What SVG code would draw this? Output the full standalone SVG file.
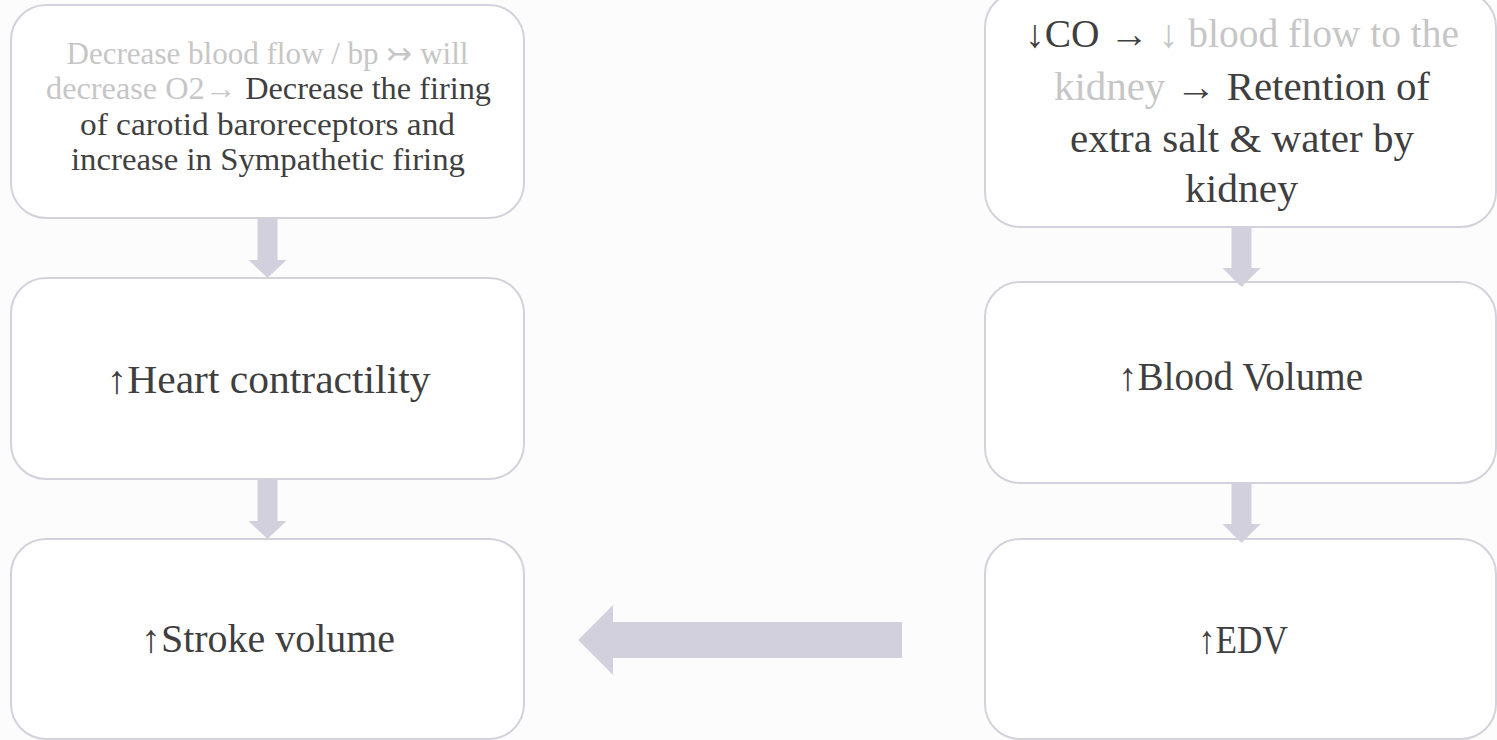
<svg xmlns="http://www.w3.org/2000/svg" width="1497" height="740" viewBox="0 0 1497 740" font-family="'Liberation Serif', serif">
<style>
.node{fill:#ffffff;stroke:#d3d2dc;stroke-width:2}
.arrow{fill:#d1d0dc;stroke:none}
.big,.small{font-family:'Liberation Serif',serif;text-anchor:middle;fill:#3f3f3f}
.big{font-size:39px}
.small{font-size:31px}
.lt{fill:#c6c6c6}
.dk{fill:#3f3f3f}
</style>
<rect x="0" y="0" width="1497" height="740" fill="#fcfcfc"/>
<g id="node-sympathetic">
<rect class="node" x="11" y="5" width="513" height="213" rx="35"/>
<text class="small lt" x="267.5" y="64" textLength="402" lengthAdjust="spacingAndGlyphs">Decrease blood flow / bp ↣ will</text>
<text class="small" x="268.5" y="99" textLength="445" lengthAdjust="spacingAndGlyphs"><tspan class="lt">decrease O2→</tspan><tspan class="dk"> Decrease the firing</tspan></text>
<text class="small" x="267.5" y="135" textLength="375" lengthAdjust="spacingAndGlyphs">of carotid baroreceptors and</text>
<text class="small" x="268" y="170" textLength="394" lengthAdjust="spacingAndGlyphs">increase in Sympathetic firing</text>
</g>
<g id="node-contractility">
<rect class="node" x="11" y="278" width="513" height="201" rx="35"/>
<text class="big" x="268.5" y="393" textLength="324" lengthAdjust="spacingAndGlyphs">↑Heart contractility</text>
</g>
<g id="node-stroke">
<rect class="node" x="11" y="539" width="513" height="200" rx="35"/>
<text class="big" x="268" y="652" textLength="254" lengthAdjust="spacingAndGlyphs">↑Stroke volume</text>
</g>
<g id="node-kidney">
<rect class="node" x="985" y="-8" width="511" height="235" rx="35"/>
<text class="big" x="1242" y="47" textLength="434" lengthAdjust="spacingAndGlyphs"><tspan class="dk">↓CO → </tspan><tspan class="lt">↓ blood flow to the</tspan></text>
<text class="big" x="1242" y="100" textLength="376" lengthAdjust="spacingAndGlyphs"><tspan class="lt">kidney</tspan><tspan class="dk"> → Retention of</tspan></text>
<text class="big" x="1242" y="152" textLength="344" lengthAdjust="spacingAndGlyphs">extra salt &amp; water by</text>
<text class="big" x="1241.5" y="202" textLength="113" lengthAdjust="spacingAndGlyphs">kidney</text>
</g>
<g id="node-blood-volume">
<rect class="node" x="985" y="282" width="511" height="201" rx="35"/>
<text class="big" x="1240.5" y="390" textLength="245" lengthAdjust="spacingAndGlyphs">↑Blood Volume</text>
</g>
<g id="node-edv">
<rect class="node" x="985" y="539" width="511" height="200" rx="35"/>
<text class="big" x="1243" y="653" textLength="90" lengthAdjust="spacingAndGlyphs">↑EDV</text>
</g>
<g id="connectors">
<polygon class="arrow" points="257.5,218 277.5,218 277.5,260 286.5,260 267.5,278 248.5,260 257.5,260"/>
<polygon class="arrow" points="257.5,479 277.5,479 277.5,521 286.5,521 267.5,539 248.5,521 257.5,521"/>
<polygon class="arrow" points="1231.5,227 1251.5,227 1251.5,268 1260.5,268 1241.5,287 1222.5,268 1231.5,268"/>
<polygon class="arrow" points="1231.5,483 1251.5,483 1251.5,524 1260.5,524 1241.5,543 1222.5,524 1231.5,524"/>
<polygon class="arrow" points="902,622 902,658 613,658 613,675 578,640 613,605 613,622"/>
</g>
</svg>
